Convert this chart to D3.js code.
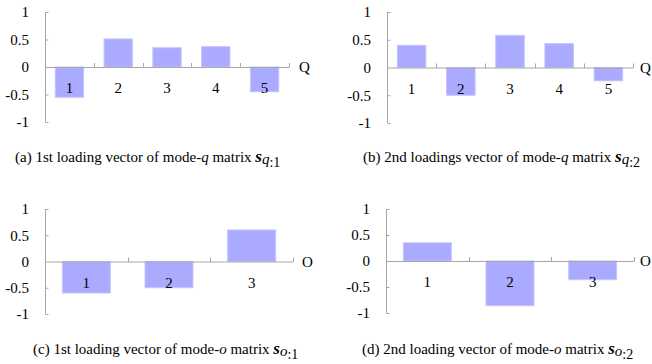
<!DOCTYPE html>
<html>
<head>
<meta charset="utf-8">
<script src="https://cdn.jsdelivr.net/npm/d3@7"></script>
<style>
  html, body { margin: 0; padding: 0; background: #fff; }
  svg { display: block; }
  svg text { font-family: "Liberation Serif", "Times New Roman", Times, serif; }
</style>
</head>
<body>
<svg id="chart" width="652" height="364"></svg>
<script>
// Loading vectors
const modeQCategories = ["1", "2", "3", "4", "5"];
const modeOCategories = ["1", "2", "3"];
const loadingQ1 = [-0.55, 0.51, 0.35, 0.37, -0.45];
const loadingQ2 = [0.40, -0.50, 0.58, 0.43, -0.24];
const loadingO1 = [-0.60, -0.50, 0.60];
const loadingO2 = [0.35, -0.86, -0.36];
const yTickValues = [-1, -0.5, 0, 0.5, 1];
const yTickLabels = ["-1", "-0.5", "0", "0.5", "1"];

const FONT = "'Liberation Serif', 'Times New Roman', Times, serif";
const svg = d3.select("#chart").attr("font-family", FONT);
const AXIS = "#a6a6a6";
const BAR = "#aaaaff";

const panels = [
  { cats: modeQCategories, vals: loadingQ1, axisName: "Q",
    caption: "(a) 1st loading vector of mode-", mode: "q", rest: " matrix ", sub1: "q", sub2: ":1",
    x0: 45, x1: 289, yTop: 12, yBot: 122, capX: 15, capY: 162, nameDx: 10 },
  { cats: modeQCategories, vals: loadingQ2, axisName: "Q",
    caption: "(b) 2nd loadings vector of mode-", mode: "q", rest: " matrix ", sub1: "q", sub2: ":2",
    x0: 387, x1: 633, yTop: 12, yBot: 123, capX: 363, capY: 162, nameDx: 7 },
  { cats: modeOCategories, vals: loadingO1, axisName: "O",
    caption: "(c) 1st loading vector of mode-", mode: "o", rest: " matrix ", sub1: "o", sub2: ":1",
    x0: 45, x1: 293, yTop: 209, yBot: 314, capX: 33, capY: 354, nameDx: 9 },
  { cats: modeOCategories, vals: loadingO2, axisName: "O",
    caption: "(d) 2nd loading vector of mode-", mode: "o", rest: " matrix ", sub1: "o", sub2: ":2",
    x0: 386, x1: 634, yTop: 209, yBot: 313, capX: 362, capY: 354, nameDx: 6 }
];

panels.forEach(p => {
  const g = svg.append("g");
  const x = d3.scaleBand().domain(p.cats).range([p.x0, p.x1]).padding(0);
  const y = d3.scaleLinear().domain([-1, 1]).range([p.yBot, p.yTop]);
  const bw = x.bandwidth();
  const y0 = y(0);

  // bars
  g.selectAll("rect.bar").data(p.cats.map((c, i) => ({ c, v: p.vals[i] })))
    .join("rect")
    .attr("class", "bar")
    .attr("x", d => x(d.c) + bw * 0.21)
    .attr("width", bw * 0.58)
    .attr("y", d => y(Math.max(0, d.v)))
    .attr("height", d => Math.abs(y(d.v) - y0))
    .attr("fill", BAR)
    .attr("stroke", "#c4c4ff")
    .attr("stroke-width", 1);

  // y axis (ticks pointing inward)
  const yAxis = d3.axisLeft(y).tickValues(yTickValues).tickSize(-3).tickFormat(() => "");
  const ya = g.append("g").attr("transform", `translate(${p.x0 + 0.5},0)`).call(yAxis);
  ya.select(".domain").attr("stroke", AXIS).attr("d", `M0,${p.yTop}V${p.yBot}`);
  ya.selectAll(".tick line").attr("stroke", AXIS).attr("x2", 3).filter(d => d === 0).remove();

  // y tick labels
  g.selectAll("text.ylab").data(yTickValues).join("text")
    .attr("class", "ylab")
    .attr("x", p.x0 - 16)
    .attr("y", d => y(d))
    .attr("dy", "0.35em")
    .attr("text-anchor", "end")
    .attr("font-size", 15)
    .attr("fill", "#000")
    .text((d, i) => yTickLabels[i]);

  // zero line with category separators
  const boundaries = p.cats.map((c, i) => x(c) + bw);
  const xa = g.append("g");
  xa.append("line").attr("x1", p.x0).attr("x2", p.x1).attr("y1", y0 + 0.5).attr("y2", y0 + 0.5)
    .attr("stroke", AXIS).attr("stroke-width", 1);
  xa.selectAll("line.sep").data(boundaries).join("line")
    .attr("class", "sep")
    .attr("x1", d => Math.round(d) + 0.5).attr("x2", d => Math.round(d) + 0.5)
    .attr("y1", y0 - 4).attr("y2", y0 + 0.5)
    .attr("stroke", AXIS);

  // category labels
  g.selectAll("text.clab").data(p.cats).join("text")
    .attr("class", "clab")
    .attr("x", d => x(d) + bw / 2)
    .attr("y", y0 + 26)
    .attr("text-anchor", "middle")
    .attr("font-size", 15)
    .attr("fill", "#000")
    .text(d => d);

  // axis name
  g.append("text")
    .attr("x", p.x1 + p.nameDx)
    .attr("y", y0)
    .attr("dy", "0.35em")
    .attr("font-size", 15)
    .attr("fill", "#000")
    .text(p.axisName);

  // caption
  const cap = g.append("text")
    .attr("x", p.capX)
    .attr("y", p.capY)
    .attr("font-size", 15)
    .attr("fill", "#000");
  cap.append("tspan").text(p.caption);
  cap.append("tspan").attr("font-style", "italic").text(p.mode);
  cap.append("tspan").text(p.rest);
  cap.append("tspan").attr("font-style", "italic").attr("font-weight", "bold").attr("font-size", 17).text("s");
  cap.append("tspan").attr("font-style", "italic").attr("font-size", 15).attr("dy", 2).text(p.sub1);
  cap.append("tspan").attr("font-size", 14).attr("dy", 3).text(p.sub2);
});
</script>
</body>
</html>
